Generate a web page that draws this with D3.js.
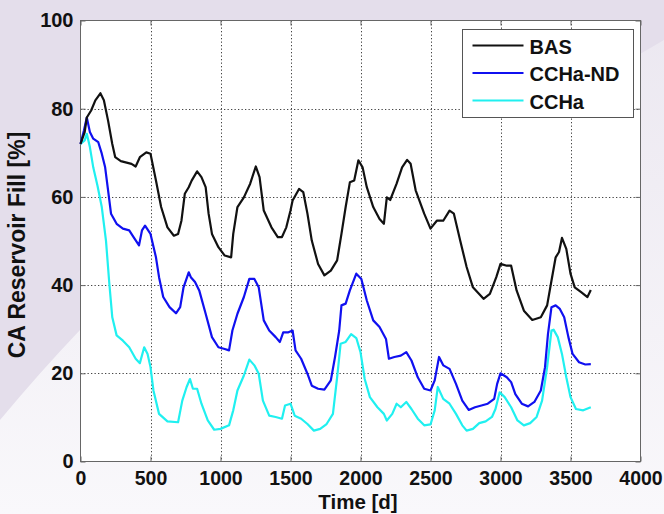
<!DOCTYPE html>
<html>
<head>
<meta charset="utf-8">
<script src="https://cdn.jsdelivr.net/npm/d3@7"></script>
<style>
  html, body { margin: 0; padding: 0; background: #f6f4f8; }
  svg { display: block; }
  text { font-family: "Liberation Sans", Arial, sans-serif; font-weight: bold; fill: #111; }
</style>
</head>
<body>
<div id="chart"></div>
<script>
// tick labels
const xTicks = [0, 500, 1000, 1500, 2000, 2500, 3000, 3500, 4000];
const yTicks = [0, 20, 40, 60, 80, 100];

// BAS
const basDays = [0, 30, 45, 76, 106, 142, 167, 197, 227, 248, 288, 364, 394, 424, 470, 500, 539, 576, 621, 667, 697, 721, 745, 773, 794, 833, 864, 894, 915, 939, 985, 1030, 1076, 1091, 1121, 1167, 1212, 1252, 1279, 1309, 1364, 1409, 1439, 1470, 1500, 1515, 1561, 1591, 1621, 1652, 1697, 1742, 1788, 1833, 1864, 1894, 1924, 1955, 1985, 2015, 2045, 2091, 2136, 2167, 2188, 2212, 2258, 2297, 2333, 2358, 2394, 2455, 2500, 2545, 2591, 2636, 2667, 2712, 2758, 2803, 2879, 2924, 2970, 3000, 3045, 3076, 3115, 3167, 3227, 3288, 3333, 3364, 3394, 3418, 3439, 3470, 3500, 3530, 3576, 3621, 3645];
const basFill = [72, 74.7, 78, 79.6, 81.9, 83.5, 81.9, 77.3, 72, 69, 68.1, 67.5, 66.9, 69, 70.1, 69.8, 63.7, 57.7, 53.1, 51.2, 51.6, 54.6, 60.7, 62.2, 63.7, 65.8, 64.5, 62.2, 56.2, 51.6, 48.6, 46.7, 46.3, 51.6, 57.7, 59.9, 63, 66.9, 64.5, 56.9, 53.1, 50.9, 50.9, 53.1, 56.9, 59.2, 61.8, 61.1, 56.2, 50.1, 44.8, 42.2, 43.3, 45.6, 51.6, 57.7, 63.3, 63.7, 68.3, 66.7, 62.2, 57.7, 55, 53.9, 59.9, 59.3, 63, 66.7, 68.4, 67.5, 61.5, 56.2, 52.8, 54.6, 54.6, 56.9, 56.2, 50.1, 44.1, 39.5, 36.9, 38, 41.8, 44.8, 44.4, 44.4, 38.8, 34.2, 32.1, 32.7, 35.4, 41, 46.3, 47.5, 50.7, 48.2, 42.6, 39.5, 38.4, 37.3, 38.9];

// CCHa-ND
const ndDays = [0, 24, 45, 67, 91, 127, 152, 176, 197, 218, 258, 303, 348, 379, 418, 439, 461, 500, 539, 561, 591, 636, 682, 712, 736, 773, 788, 818, 848, 894, 939, 985, 1030, 1061, 1085, 1121, 1167, 1206, 1242, 1273, 1309, 1348, 1394, 1424, 1448, 1485, 1515, 1536, 1576, 1621, 1652, 1697, 1742, 1788, 1818, 1848, 1864, 1894, 1924, 1970, 2006, 2045, 2091, 2136, 2182, 2203, 2242, 2288, 2327, 2364, 2409, 2455, 2500, 2530, 2561, 2591, 2636, 2682, 2727, 2773, 2818, 2864, 2909, 2955, 2976, 3000, 3045, 3076, 3106, 3152, 3197, 3242, 3288, 3318, 3339, 3364, 3394, 3424, 3455, 3485, 3515, 3561, 3606, 3645];
const ndFill = [72, 75, 78, 74.7, 73.2, 72.4, 69.8, 66.7, 61.5, 56.2, 53.9, 52.8, 52.4, 50.9, 49, 52.4, 53.5, 51.6, 46.3, 41.8, 37.3, 35, 33.6, 35, 39.5, 42.9, 41.8, 40.7, 38.8, 33.5, 28.2, 25.9, 25.5, 25.2, 29.7, 33.5, 37.3, 41.4, 41.4, 39.5, 32, 29.7, 28.2, 27.1, 29.3, 29.3, 29.7, 25.2, 23.3, 19.9, 17.2, 16.5, 16.3, 18.4, 23.7, 29.7, 35.4, 35.8, 38.8, 42.6, 41.4, 36.5, 32, 30.5, 27.8, 23.3, 23.7, 24, 24.8, 22.9, 19.1, 16.5, 16.1, 18.4, 23.7, 21.8, 21, 17.6, 13.8, 11.7, 12.3, 12.7, 13.1, 14.2, 17.6, 20, 19.1, 18, 15.3, 13.1, 12.5, 13.5, 16.1, 21.4, 28.9, 35, 35.4, 34.6, 32.7, 28.2, 24.4, 22.5, 22, 22.1];

// CCHa
const cchaDays = [0, 30, 45, 67, 91, 121, 152, 182, 206, 227, 258, 303, 348, 394, 424, 455, 479, 500, 521, 561, 621, 697, 727, 758, 782, 803, 833, 864, 909, 955, 1000, 1061, 1091, 1121, 1167, 1206, 1242, 1273, 1303, 1348, 1394, 1439, 1461, 1500, 1530, 1576, 1621, 1667, 1712, 1758, 1803, 1833, 1858, 1894, 1933, 1970, 2000, 2030, 2067, 2121, 2167, 2188, 2227, 2258, 2288, 2327, 2364, 2409, 2455, 2500, 2530, 2552, 2591, 2636, 2682, 2727, 2758, 2803, 2848, 2894, 2939, 2964, 2994, 3030, 3076, 3121, 3167, 3212, 3258, 3297, 3333, 3364, 3379, 3409, 3439, 3470, 3500, 3539, 3591, 3645];
const cchaFill = [72, 72.8, 74.3, 71.3, 66.7, 62.6, 57.7, 50.1, 40.3, 32.7, 28.6, 27.4, 25.9, 23.3, 22.3, 25.9, 24.4, 21.4, 16.1, 10.8, 9.1, 8.9, 13.8, 16.9, 18.7, 16.5, 16.5, 13.1, 9.3, 7.2, 7.4, 8.2, 11.6, 16.1, 19.5, 23.1, 21.8, 19.9, 13.8, 10.4, 10.1, 9.7, 12.7, 13.1, 10.4, 9.7, 8.5, 7, 7.4, 8.5, 10.8, 19.1, 26.7, 27.1, 28.9, 28, 24.8, 18.7, 14.6, 12.3, 10.8, 9.3, 10.8, 13.1, 12.3, 13.5, 11.9, 9.7, 8.2, 8.4, 11.6, 16.9, 14.2, 13.1, 10.8, 8.2, 7, 7.4, 8.7, 9.1, 10.1, 11.9, 15.7, 14.6, 12.3, 9.3, 8.2, 8.7, 10.1, 13.8, 21.4, 29.7, 29.9, 28.2, 24.4, 19.1, 14.6, 11.9, 11.6, 12.3];

const seriesNames = ["BAS", "CCHa-ND", "CCHa"];
const seriesColors = ["#111111", "#1010f0", "#20f0f0"];

const W = 664, H = 514;
const plot = {left: 80.5, right: 640.5, top: 20.5, bottom: 461.5};

const svg = d3.select("#chart").append("svg")
    .attr("width", W)
    .attr("height", H);

// slide background
const bg = svg.append("defs").append("linearGradient")
    .attr("id", "bgGrad")
    .attr("x1", 0).attr("y1", 0).attr("x2", 0).attr("y2", 1);
bg.append("stop").attr("offset", "0%").attr("stop-color", "#ebe7f0");
bg.append("stop").attr("offset", "100%").attr("stop-color", "#f9f8fb");
svg.append("rect").attr("width", W).attr("height", H).attr("fill", "url(#bgGrad)");
svg.append("path")
    .attr("d", "M0,0 H664 V40 L640,54 V20 H80 V330 Q40,372 0,420 Z")
    .attr("fill", "#e4deeb");

const x = d3.scaleLinear().domain([0, 4000]).range([plot.left, plot.right]);
const y = d3.scaleLinear().domain([0, 100]).range([plot.bottom, plot.top]);

svg.append("rect")
    .attr("x", plot.left).attr("y", plot.top)
    .attr("width", plot.right - plot.left).attr("height", plot.bottom - plot.top)
    .attr("fill", "#fff");

// dotted grid
const grid = svg.append("g").attr("stroke", "#444").attr("stroke-width", 1).attr("stroke-dasharray", "1.3,2.2");
grid.selectAll(".gx").data(xTicks.slice(1, -1)).enter().append("line")
    .attr("x1", d => Math.round(x(d)) + 0.5).attr("x2", d => Math.round(x(d)) + 0.5)
    .attr("y1", plot.top).attr("y2", plot.bottom);
grid.selectAll(".gy").data(yTicks.slice(1, -1)).enter().append("line")
    .attr("y1", d => Math.round(y(d)) + 0.5).attr("y2", d => Math.round(y(d)) + 0.5)
    .attr("x1", plot.left).attr("x2", plot.right);

// axes with inward ticks
const styleAxis = (g) => {
    g.select(".domain").remove();
    g.selectAll(".tick line").attr("stroke", "#666");
    g.selectAll("text").style("font-size", "20px").attr("fill", "#111");
};
svg.append("g").attr("transform", "translate(0," + plot.bottom + ")")
    .call(d3.axisBottom(x).tickValues(xTicks).tickFormat(d3.format("d"))
        .tickSizeInner(-5).tickSizeOuter(0).tickPadding(10))
    .call(styleAxis)
    .call(g => g.selectAll("text").style("font-size", "19.5px"));
svg.append("g").attr("transform", "translate(" + plot.left + ",0)")
    .call(d3.axisLeft(y).tickValues(yTicks).tickFormat(d3.format("d"))
        .tickSizeInner(-5).tickSizeOuter(0).tickPadding(7))
    .call(styleAxis);
svg.append("g").attr("transform", "translate(0," + plot.top + ")")
    .call(d3.axisTop(x).tickValues(xTicks).tickSizeInner(-5).tickSizeOuter(0).tickFormat(""))
    .call(styleAxis);
svg.append("g").attr("transform", "translate(" + plot.right + ",0)")
    .call(d3.axisRight(y).tickValues(yTicks).tickSizeInner(-5).tickSizeOuter(0).tickFormat(""))
    .call(styleAxis);

svg.append("rect")
    .attr("x", plot.left).attr("y", plot.top)
    .attr("width", plot.right - plot.left).attr("height", plot.bottom - plot.top)
    .attr("fill", "none").attr("stroke", "#666").attr("stroke-width", 1);

// series lines
const series = [
    {days: basDays, fill: basFill},
    {days: ndDays, fill: ndFill},
    {days: cchaDays, fill: cchaFill}
];
const line = d3.line().x(d => x(d[0])).y(d => y(d[1]));
series.slice().reverse().forEach((s, k) => {
    const i = series.length - 1 - k;
    svg.append("path")
        .datum(d3.zip(s.days, s.fill))
        .attr("d", line)
        .attr("fill", "none")
        .attr("stroke", seriesColors[i])
        .attr("stroke-width", 2.2)
        .attr("stroke-linejoin", "round");
});

// axis titles
svg.append("text")
    .attr("x", 358).attr("y", 509)
    .attr("text-anchor", "middle")
    .style("font-size", "20.5px")
    .text("Time [d]");
svg.append("text")
    .attr("transform", "translate(25,245) rotate(-90)")
    .attr("text-anchor", "middle")
    .style("font-size", "23px")
    .text("CA Reservoir Fill [%]");

// legend
const legend = svg.append("g").attr("transform", "translate(462.5,29.5)");
legend.append("rect")
    .attr("width", 171).attr("height", 88)
    .attr("fill", "#fff").attr("stroke", "#555").attr("stroke-width", 1);
seriesNames.forEach((name, i) => {
    const yy = 16 + i * 27.5;
    legend.append("line")
        .attr("x1", 10).attr("x2", 61).attr("y1", yy).attr("y2", yy)
        .attr("stroke", seriesColors[i]).attr("stroke-width", 2.2);
    legend.append("text")
        .attr("x", 67).attr("y", yy + 8)
        .style("font-size", "20px")
        .text(name);
});
</script>
</body>
</html>
